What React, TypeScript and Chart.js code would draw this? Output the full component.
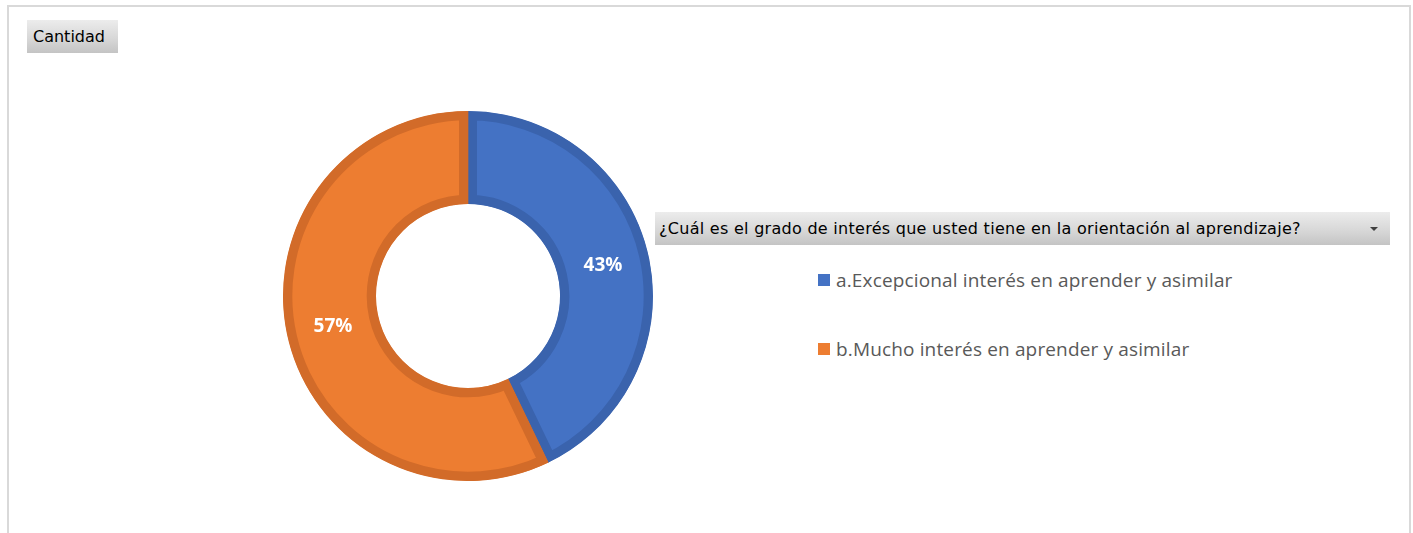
import React, { useEffect, useRef } from "react";
import { Chart, registerables } from "chart.js";

Chart.register(...registerables);

const categories: string[] = [
  "a.Excepcional interés en aprender y asimilar",
  "b.Mucho interés en aprender y asimilar",
];
const counts: number[] = [3, 4];
const fillColors: string[] = ["#4472C4", "#ED7D31"];
const borderColors: string[] = ["#3A63AD", "#D26B29"];
const fieldTitle = "¿Cuál es el grado de interés que usted tiene en la orientación al aprendizaje?";
const valueButton = "Cantidad";

const labelPlugin = {
  id: "pctLabels",
  afterDatasetsDraw(chart: any) {
    const ctx = chart.ctx;
    const meta = chart.getDatasetMeta(0);
    const data = chart.data.datasets[0].data as number[];
    const total = data.reduce((a, b) => a + b, 0);
    ctx.save();
    ctx.fillStyle = "#FFFFFF";
    ctx.font = "bold 19px 'Open Sans', sans-serif";
    ctx.textAlign = "center";
    ctx.textBaseline = "middle";
    meta.data.forEach((el: any, i: number) => {
      const p = el.tooltipPosition();
      const pct = Math.round((data[i] / total) * 100) + "%";
      ctx.fillText(pct, p.x, p.y);
    });
    ctx.restore();
  },
};

export default function App() {
  const ref = useRef<HTMLCanvasElement | null>(null);
  useEffect(() => {
    if (!ref.current) return;
    const chart = new Chart(ref.current, {
      type: "doughnut",
      data: {
        labels: categories,
        datasets: [
          {
            data: counts,
            backgroundColor: fillColors,
            borderColor: borderColors,
            borderWidth: 9,
            borderAlign: "inner",
            hoverOffset: 0,
          } as any,
        ],
      },
      options: {
        animation: false,
        responsive: false,
        maintainAspectRatio: false,
        radius: 185,
        cutout: 92,
        rotation: 0,
        layout: { padding: 0 },
        events: [],
        plugins: {
          legend: { display: false },
          tooltip: { enabled: false },
        },
      } as any,
      plugins: [labelPlugin],
    });
    return () => chart.destroy();
  }, []);

  const gradBtn = "linear-gradient(to bottom, #ececec 0%, #d6d6d6 60%, #c4c4c4 100%)";

  return (
    <div style={{ position: "absolute", left: 0, top: 0, width: 1413, height: 533, overflow: "hidden", background: "#fff" }}>
      <div
        style={{
          position: "absolute",
          left: 7,
          top: 5,
          width: 1400,
          height: 560,
          borderLeft: "2px solid #d9d9d9",
          borderTop: "2px solid #d9d9d9",
          borderRight: "2px solid #d9d9d9",
        }}
      />
      <div
        style={{
          position: "absolute",
          left: 27,
          top: 20,
          width: 91,
          height: 33,
          background: gradBtn,
          fontFamily: "'DejaVu Sans', sans-serif",
          fontSize: 16,
          color: "#000",
          lineHeight: "33px",
          paddingLeft: 6,
          boxSizing: "border-box",
          whiteSpace: "nowrap",
        }}
      >
        {valueButton}
      </div>
      <div style={{ position: "absolute", left: 283, top: 111, width: 370, height: 370 }}>
        <canvas ref={ref} width={370} height={370} style={{ width: 370, height: 370, display: "block" }} />
      </div>
      <div
        style={{
          position: "absolute",
          left: 655,
          top: 212,
          width: 735,
          height: 33,
          background: gradBtn,
          fontFamily: "'DejaVu Sans', sans-serif",
          fontSize: 16,
          letterSpacing: 0.28,
          color: "#000",
          lineHeight: "33px",
          paddingLeft: 4,
          boxSizing: "border-box",
          whiteSpace: "nowrap",
        }}
      >
        {fieldTitle}
        <div
          style={{
            position: "absolute",
            left: 715,
            top: 15,
            width: 0,
            height: 0,
            borderLeft: "4px solid transparent",
            borderRight: "4px solid transparent",
            borderTop: "4px solid #404040",
          }}
        />
      </div>
      {categories.map((c, i) => (
        <div
          key={c}
          style={{
            position: "absolute",
            left: 818,
            top: 268 + i * 69,
            height: 24,
            display: "flex",
            alignItems: "center",
            whiteSpace: "nowrap",
            fontFamily: "'Open Sans', sans-serif",
            fontSize: 19,
            letterSpacing: 0.15,
            color: "#595959",
          }}
        >
          <div style={{ width: 12, height: 12, background: fillColors[i], marginRight: 6 }} />
          <span>{c}</span>
        </div>
      ))}
    </div>
  );
}
